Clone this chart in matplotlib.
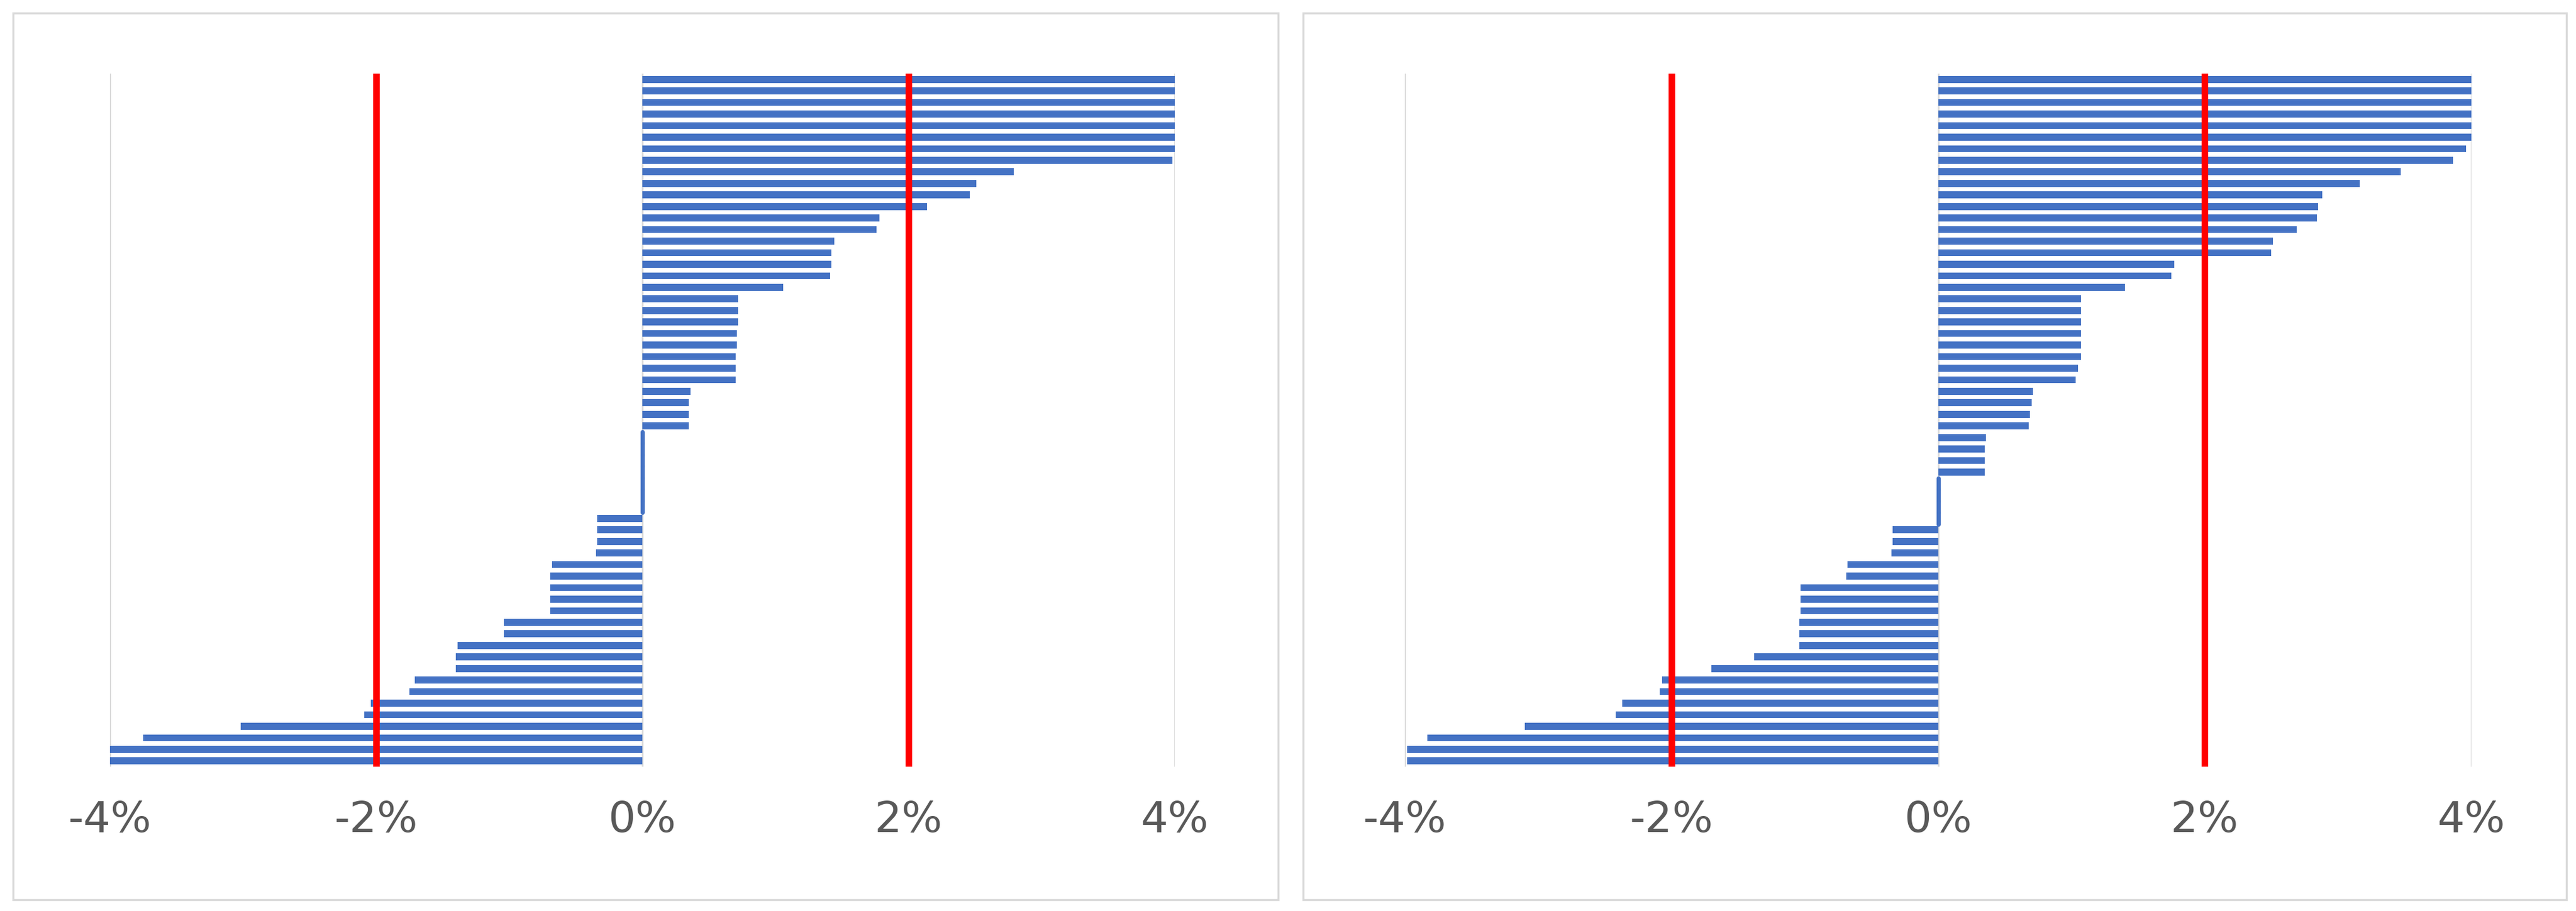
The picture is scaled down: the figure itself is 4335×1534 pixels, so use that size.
import matplotlib
matplotlib.use("Agg")
import matplotlib.pyplot as plt
from matplotlib.patches import Rectangle
import numpy as np

# values in %, top row first
left_vals = [4.0, 4.0, 4.0, 4.0, 4.0, 4.0, 4.0, 3.98, 2.79, 2.51, 2.46, 2.14,
             1.78, 1.76, 1.44, 1.42, 1.42, 1.41, 1.06, 0.72, 0.72, 0.72, 0.71,
             0.71, 0.70, 0.70, 0.70, 0.36, 0.35, 0.35, 0.35,
             0, 0, 0, 0, 0, 0, 0,
             -0.34, -0.34, -0.34, -0.35, -0.68, -0.69, -0.69, -0.69, -0.69,
             -1.04, -1.04, -1.39, -1.40, -1.40, -1.71, -1.75, -2.04, -2.09,
             -3.02, -3.75, -4.0, -4.0]
right_vals = [4.0, 4.0, 4.0, 4.0, 4.0, 4.0, 3.96, 3.86, 3.47, 3.16, 2.88, 2.85,
              2.84, 2.69, 2.51, 2.50, 1.77, 1.75, 1.40, 1.07, 1.07, 1.07, 1.07,
              1.07, 1.07, 1.05, 1.03, 0.71, 0.70, 0.69, 0.68, 0.36, 0.35, 0.35,
              0.35,
              0, 0, 0, 0,
              -0.34, -0.34, -0.35, -0.68, -0.69, -1.03, -1.03, -1.03, -1.04,
              -1.04, -1.04, -1.38, -1.70, -2.07, -2.09, -2.37, -2.42, -3.10,
              -3.83, -3.98, -3.98]
ticks = [-4, -2, 0, 2, 4]
tick_labels = ["-4%", "-2%", "0%", "2%", "4%"]
thresholds = [-2, 2]

W, H = 4335, 1534
fig = plt.figure(figsize=(W / 100, H / 100), dpi=100)

blue = "#4472c4"

def panel(vals, box, ax_rect):
    bx0, by0, bx1, by1 = box
    fig.patches.append(Rectangle((bx0 / W, 1 - by1 / H), (bx1 - bx0) / W, (by1 - by0) / H,
                                 transform=fig.transFigure, fill=False,
                                 edgecolor="#d9d9d9", linewidth=2.5))
    x0, x1, y0, y1 = ax_rect
    ax = fig.add_axes([x0 / W, 1 - y1 / H, (x1 - x0) / W, (y1 - y0) / H])
    vals = np.array(vals)
    y = np.arange(len(vals))
    nz = vals != 0
    ax.barh(y[nz], vals[nz], height=0.6, color=blue)
    ax.barh(y[~nz], vals[~nz], height=1.0, color=blue, edgecolor=blue,
            linewidth=5, capstyle="round", joinstyle="round")
    for t in ticks:
        ax.axvline(t, color="#d9d9d9", linewidth=2, zorder=0)
    for t in thresholds:
        ax.axvline(t, color="#ff0000", linewidth=8, solid_capstyle="round", zorder=3)
    ax.set_xlim(-4, 4)
    ax.set_ylim(len(vals) - 0.5, -0.5)
    ax.set_xticks(ticks)
    ax.set_xticklabels(tick_labels)
    ax.set_yticks([])
    ax.tick_params(axis="x", length=0, labelsize=52, labelcolor="#595959", pad=40)
    for s in ax.spines.values():
        s.set_visible(False)

panel(left_vals, (22, 22, 2151, 1515), (185, 1977, 124, 1291))
panel(right_vals, (2193, 22, 4319, 1515), (2364, 4159, 124, 1291))

fig.savefig("out.png", dpi=100, facecolor="white")
